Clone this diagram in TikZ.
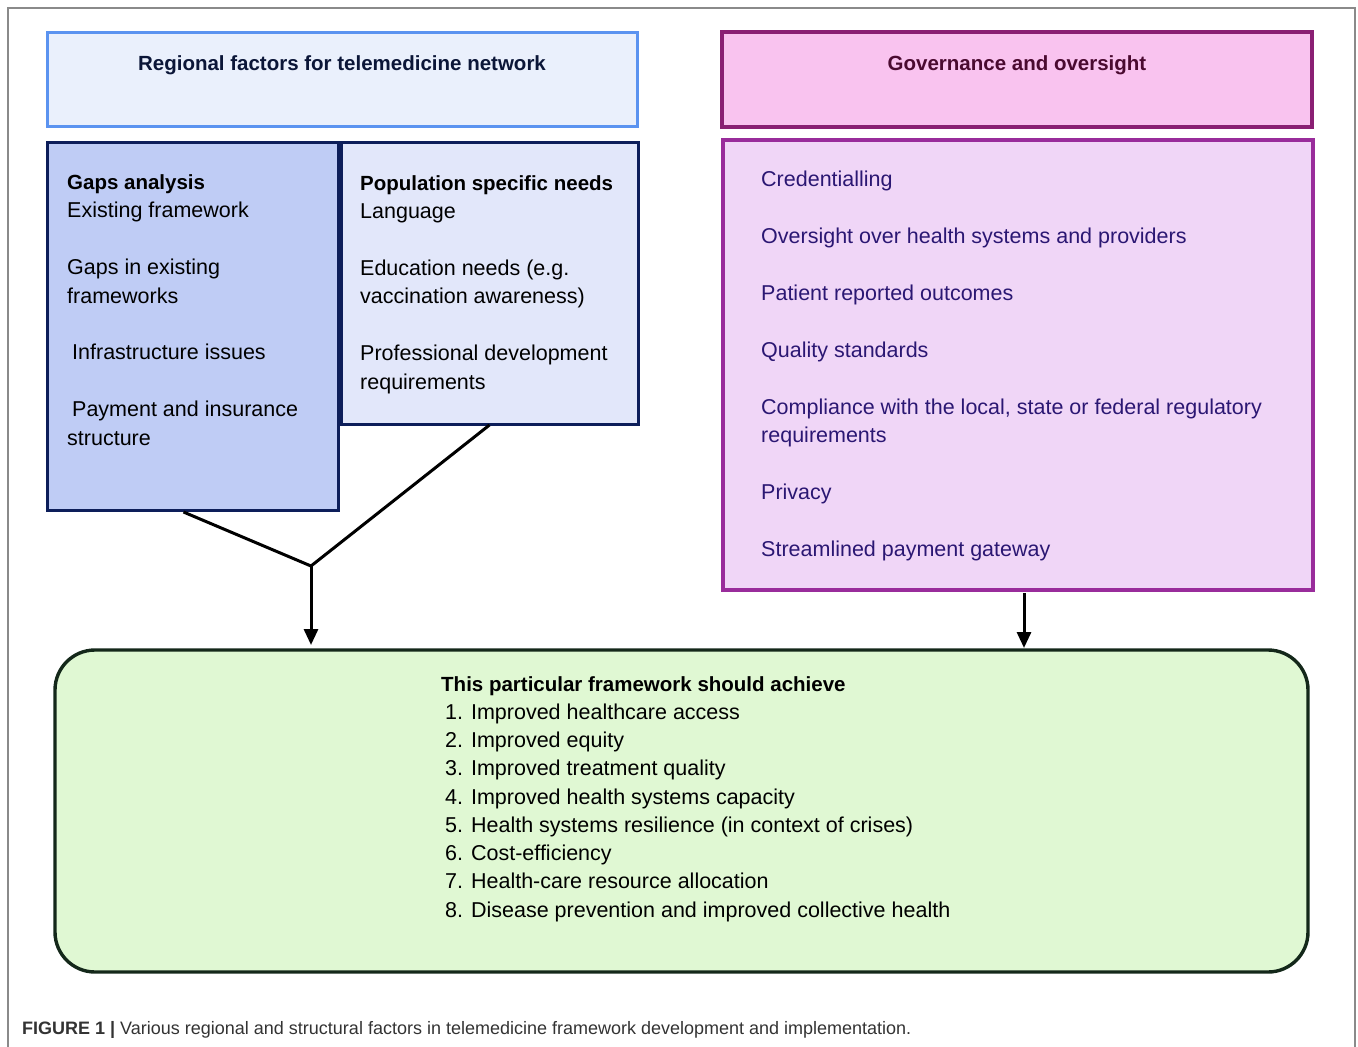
\documentclass[tikz,border=0pt]{standalone}
\usepackage{fontspec}
\setmainfont{Liberation Sans}
\usetikzlibrary{arrows.meta}
\definecolor{hdrLfill}{HTML}{EAF0FC}
\definecolor{hdrLdraw}{HTML}{5B93F0}
\definecolor{gapfill}{HTML}{BFCCF5}
\definecolor{navy}{HTML}{0D1E5A}
\definecolor{popfill}{HTML}{E2E7FA}
\definecolor{govhfill}{HTML}{F9C3EF}
\definecolor{govhdraw}{HTML}{8A1F73}
\definecolor{govlfill}{HTML}{F0D6F7}
\definecolor{govldraw}{HTML}{992C9B}
\definecolor{greenfill}{HTML}{E0F8D3}
\definecolor{greendraw}{HTML}{14281A}
\definecolor{govtext}{HTML}{2B1773}
\definecolor{hdrtext}{HTML}{0B1638}
\definecolor{govhtext}{HTML}{4A0A30}
\definecolor{captext}{HTML}{333333}
\definecolor{framegray}{HTML}{8A8A8A}
\newcommand{\bhd}[1]{{\fontsize{20.5}{28.4}\selectfont\bfseries #1}}
\begin{document}
\begin{tikzpicture}[x=1pt,y=-1pt,
  box/.style={anchor=north west, inner sep=0pt, outer sep=0pt},
  txt/.style={anchor=base west, inner sep=0pt, align=left, font=\fontsize{21.5}{28.4}\selectfont},
  conn/.style={line width=3pt, black},
  arr/.style={conn, -{Triangle[length=16pt,width=14pt]}}]
\useasboundingbox (0,0) rectangle (1358,1047);
% outer frame
\draw[framegray, line width=1.2pt] (8,1047) -- (8,8) -- (1355,8) -- (1355,1047);
% boxes
\node[box, draw=hdrLdraw, fill=hdrLfill, line width=3pt, minimum width=590pt, minimum height=94pt] (hdrL) at (47,32) {};
\node[box, draw=navy, fill=gapfill, line width=3pt, minimum width=291pt, minimum height=368pt] (gaps) at (47,142) {};
\node[box, draw=navy, fill=popfill, line width=3pt, minimum width=297pt, minimum height=282pt] (pop) at (341,142) {};
\node[box, draw=govhdraw, fill=govhfill, line width=3.4pt, minimum width=590pt, minimum height=95pt] (govh) at (722,32) {};
\node[box, draw=govldraw, fill=govlfill, line width=3.2pt, minimum width=590pt, minimum height=450pt] (govl) at (723,140) {};
\node[box, draw=greendraw, fill=greenfill, line width=3.4pt, rounded corners=40pt, minimum width=1253pt, minimum height=322pt] (green) at (55,650) {};
% header texts
\node[anchor=center, inner sep=0pt, text=hdrtext] (hdrLt) at (342,65) {\bhd{Regional factors for telemedicine network}};
\node[anchor=center, inner sep=0pt, text=govhtext] (govht) at (1017,65) {\bhd{Governance and oversight}};
% left box text
\node[txt, text=black] (gapst) at (67,445) {\bhd{Gaps analysis}\\Existing framework\\[28.4pt]Gaps in existing\\frameworks\\[28.4pt]\hspace{5pt}Infrastructure issues\\[28.4pt]\hspace{5pt}Payment and insurance\\structure};
\node[txt, text=black] (popt) at (360,389) {\bhd{Population specific needs}\\Language\\[28.4pt]Education needs (e.g.\\vaccination awareness)\\[28.4pt]Professional development\\requirements};
\node[txt, text=govtext] (govt) at (761,556) {Credentialling\\[28.4pt]Oversight over health systems and providers\\[28.4pt]Patient reported outcomes\\[28.4pt]Quality standards\\[28.4pt]Compliance with the local, state or federal regulatory\\requirements\\[28.4pt]Privacy\\[28.4pt]Streamlined payment gateway};
\node[txt, text=black, font=\fontsize{21.5}{28.25}\selectfont] (greent) at (441,917) {\bhd{This particular framework should achieve}\\
\hspace{4pt}1. Improved healthcare access\\
\hspace{4pt}2. Improved equity\\
\hspace{4pt}3. Improved treatment quality\\
\hspace{4pt}4. Improved health systems capacity\\
\hspace{4pt}5. Health systems resilience (in context of crises)\\
\hspace{4pt}6. Cost-efficiency\\
\hspace{4pt}7. Health-care resource allocation\\
\hspace{4pt}8. Disease prevention and improved collective health};
% connectors
\coordinate (j) at (311,566);
\draw[conn] ([xshift=-9pt,yshift=-2pt]gaps.south) -- (j);
\draw[conn] ([yshift=-1pt]pop.south) -- (j);
\draw[arr] (j) -- ([yshift=5pt]j |- green.north);
\draw[arr] ([xshift=6pt,yshift=-3pt]govl.south) -- ([xshift=6pt,yshift=2pt]govl.south |- green.north);
% caption
\node[anchor=base west, inner sep=0pt, font=\fontsize{18}{20}\selectfont, text=captext] (cap) at (22,1034) {\textbf{FIGURE 1 |} Various regional and structural factors in telemedicine framework development and implementation.};
\end{tikzpicture}
\end{document}
